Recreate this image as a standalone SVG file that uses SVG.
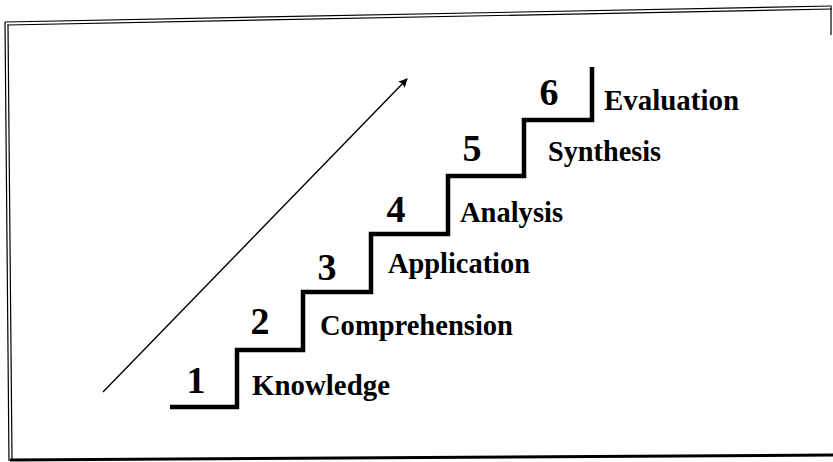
<svg xmlns="http://www.w3.org/2000/svg" width="833" height="462" viewBox="0 0 833 462">
  <style>
    .border { fill: none; stroke: #000; stroke-width: 1.2; }
    .stairs { fill: none; stroke: #000; stroke-width: 4.5; stroke-linejoin: miter; stroke-linecap: butt; }
    .num { font-family: "Liberation Serif", "Times New Roman", serif; font-weight: bold; font-size: 38px; fill: #000; text-anchor: middle; }
    .lbl { font-family: "Liberation Serif", "Times New Roman", serif; font-weight: bold; font-size: 29px; fill: #000; }
    .arrow { fill: none; stroke: #000; stroke-width: 1.4; }
  </style>
  <defs>
    <marker id="head" viewBox="0 0 10 10" refX="9" refY="5" markerWidth="9" markerHeight="9" orient="auto" markerUnits="userSpaceOnUse">
      <path d="M0,0 L10,5 L0,10 L2,5 Z" fill="#000"/>
    </marker>
  </defs>
  <rect x="0" y="0" width="833" height="462" fill="#fff"/>
  <g id="frame">
    <path class="border" d="M5,22 L832,6"/>
    <path class="border" d="M7,25 L832,9"/>
    <path class="border" d="M5,22 L9,461"/>
    <path class="border" d="M8,25 L12,459"/>
    <path d="M10,460 L833,455" fill="none" stroke="#000" stroke-width="3"/>
    <path class="border" d="M831,7 L831,35"/>
  </g>
  <g id="connectors">
    <path class="arrow" d="M103,392 L407,79" marker-end="url(#head)"/>
  </g>
  <g id="staircase">
    <path class="stairs" d="M170,407 L237,407 L237,350 L303,350 L303,292 L371,292 L371,234 L448,234 L448,176 L524,176 L524,120 L592,120 L592,67"/>
  </g>
  <g id="step1">
    <text class="num" x="196" y="393">1</text>
    <text class="lbl" x="252" y="395" textLength="138" lengthAdjust="spacingAndGlyphs">Knowledge</text>
  </g>
  <g id="step2">
    <text class="num" x="260" y="334">2</text>
    <text class="lbl" x="320" y="335" textLength="193" lengthAdjust="spacingAndGlyphs">Comprehension</text>
  </g>
  <g id="step3">
    <text class="num" x="327" y="280">3</text>
    <text class="lbl" x="388" y="273" textLength="142" lengthAdjust="spacingAndGlyphs">Application</text>
  </g>
  <g id="step4">
    <text class="num" x="396" y="222">4</text>
    <text class="lbl" x="460" y="222" textLength="103" lengthAdjust="spacingAndGlyphs">Analysis</text>
  </g>
  <g id="step5">
    <text class="num" x="472" y="161">5</text>
    <text class="lbl" x="548" y="161" textLength="113" lengthAdjust="spacingAndGlyphs">Synthesis</text>
  </g>
  <g id="step6">
    <text class="num" x="549" y="105">6</text>
    <text class="lbl" x="604" y="110" textLength="135" lengthAdjust="spacingAndGlyphs">Evaluation</text>
  </g>
</svg>
